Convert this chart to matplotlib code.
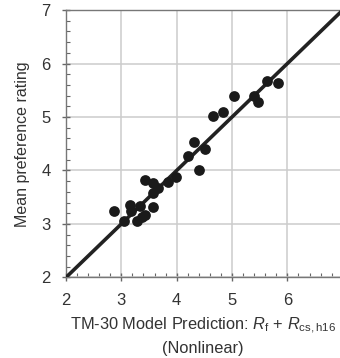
import matplotlib
matplotlib.use("Agg")
import matplotlib.pyplot as plt
import numpy as np
from matplotlib.ticker import MultipleLocator

plt.rcParams["font.family"] = ["Liberation Sans", "DejaVu Sans"]
plt.rcParams["mathtext.fontset"] = "custom"
plt.rcParams["mathtext.rm"] = "Liberation Sans"
plt.rcParams["mathtext.it"] = "Liberation Sans:italic"

# model prediction vs. mean preference rating
predicted = [2.86, 3.04, 3.16, 3.17, 3.28, 3.34, 3.37, 3.43, 3.43, 3.58,
             3.58, 3.58, 3.67, 3.84, 3.98, 4.20, 4.31, 4.41, 4.51, 4.65,
             4.83, 5.03, 5.39, 5.47, 5.64, 5.83]
rating = [3.25, 3.05, 3.35, 3.25, 3.05, 3.33, 3.13, 3.16, 3.83, 3.32,
          3.77, 3.58, 3.67, 3.78, 3.87, 4.27, 4.54, 4.00, 4.41, 5.02,
          5.10, 5.40, 5.40, 5.28, 5.68, 5.64]
unity = [2, 7]

text_color = "#333333"

fig = plt.figure(figsize=(3.4, 3.58), dpi=100)
ax = fig.add_axes([0.194, 0.225, 0.806, 0.747])

ax.plot(unity, unity, color="#222222", linewidth=2.6, zorder=3)
ax.scatter(predicted, rating, s=60, color="#1a1a1a", zorder=4, linewidths=0)

ax.set_xlim(2, 6.95)
ax.set_ylim(2, 7)
ax.xaxis.set_major_locator(MultipleLocator(1))
ax.yaxis.set_major_locator(MultipleLocator(1))
ax.xaxis.set_minor_locator(MultipleLocator(0.2))
ax.yaxis.set_minor_locator(MultipleLocator(0.2))
ax.grid(True, which="major", color="#cccccc", linewidth=1.1, zorder=0)
ax.set_axisbelow(True)

ax.tick_params(which="major", direction="inout", length=6, width=1,
               color="#666666", labelsize=12, labelcolor=text_color, pad=8)
ax.tick_params(which="minor", direction="in", length=3, width=0.8,
               color="#666666")

for side in ["left", "bottom", "top"]:
    ax.spines[side].set_color("#777777")
    ax.spines[side].set_linewidth(1)
ax.spines["right"].set_visible(False)

ax.set_xlabel("TM-30 Model Prediction: $R_{\\mathrm{f}}$ + $R_{\\mathrm{cs,h16}}$\n(Nonlinear)",
              fontsize=11.8, color=text_color, labelpad=6, linespacing=1.4)
ax.set_ylabel("Mean preference rating", fontsize=11.5, color=text_color,
              labelpad=8)

fig.savefig("out.png", dpi=100)
